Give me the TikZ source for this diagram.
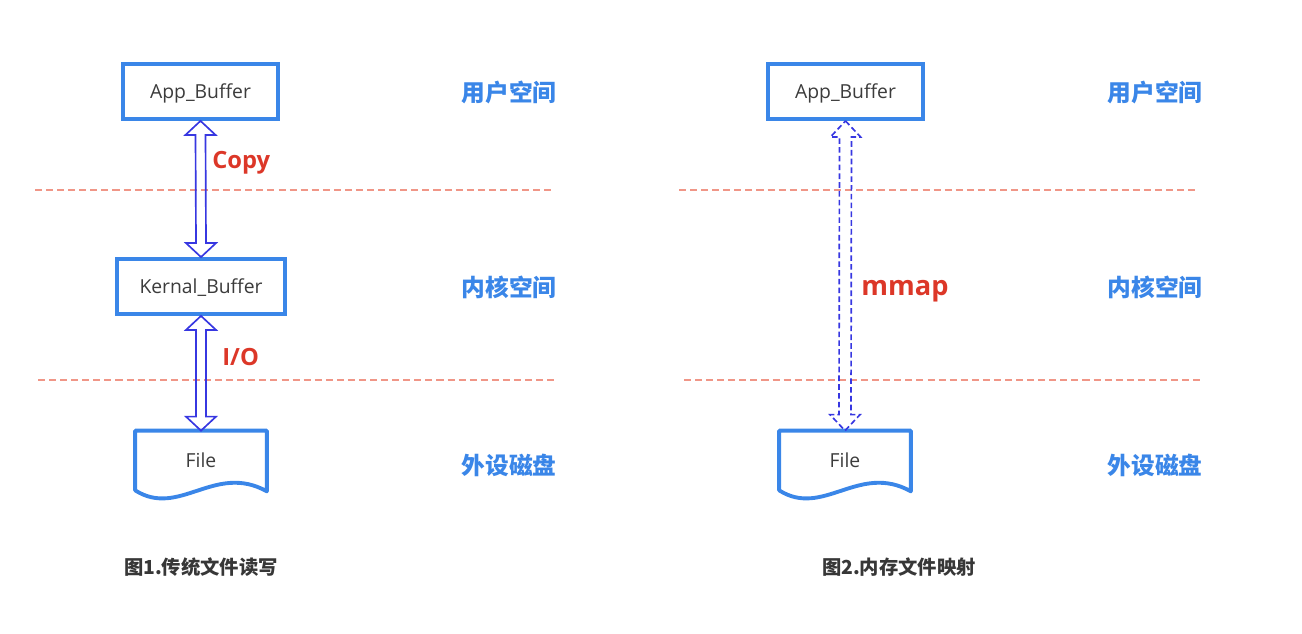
\documentclass[tikz,border=0pt]{standalone}
\usepackage{fontspec}
\setmainfont{Open Sans}
\newfontfamily\cjk{Noto Sans CJK SC}
\usetikzlibrary{calc}
\definecolor{boxblue}{RGB}{58,134,232}
\definecolor{arrowblue}{RGB}{55,55,225}
\definecolor{sepred}{RGB}{240,150,135}
\definecolor{labred}{RGB}{220,55,40}
\definecolor{capgray}{RGB}{55,55,55}
\definecolor{txtgray}{RGB}{60,60,60}
\tikzset{
  buf/.style={draw=boxblue, line width=2.2pt, fill=white, minimum height=1.1cm, inner sep=0pt, font=\fontsize{11}{13}\selectfont, text=txtgray, text height=7.8pt, text depth=0pt},
  filebox/.style={minimum width=2.62cm, minimum height=1.2cm, inner sep=0pt, font=\fontsize{11}{13}\selectfont, text=txtgray, text height=7.8pt, text depth=0pt},
  fileline/.style={draw=boxblue, line width=2.2pt, line join=round},
  sep/.style={draw=sepred, line width=1.25pt, dash pattern=on 4pt off 2.3pt},
  zone/.style={text=boxblue, font=\cjk\bfseries\fontsize{13.5}{16}\selectfont},
  captxt/.style={text=capgray, font=\cjk\bfseries\fontsize{11}{13}\selectfont},
  oplab/.style={text=labred, font=\bfseries\fontsize{13.5}{16}\selectfont, anchor=west, inner sep=0pt},
  harrow/.style={draw=arrowblue, line width=0.95pt, line join=miter},
  harrowd/.style={harrow, dash pattern=on 3.2pt off 1.8pt},
}
\begin{document}
\begin{tikzpicture}[x=0.02cm, y=-0.02cm]
\useasboundingbox (0,0) rectangle (1302,634);

% separators
\draw[sep] (35,190) -- (553,190);
\draw[sep] (38,380) -- (557,380);
\draw[sep] (679,190) -- (1197,190);
\draw[sep] (684,380) -- (1202,380);

% left diagram
\node[buf, minimum width=3.1cm] (ab1) at (200.5,91.5) {App\_Buffer};
\node[buf, minimum width=3.36cm] (kb) at (201,286.5) {Kernal\_Buffer};
\node[filebox] (f1) at (201,461) {File};
\draw[fileline] (f1.north west) -- ($(f1.south west)+(0,-1)$)
  .. controls ($(f1.south west)+(44,27)$) and ($(f1.south east)+(-52,-29)$) .. (f1.south east)
  -- (f1.north east) -- cycle;

\draw[harrow] (ab1.south) -- ++(15,14) -- ++(-10,0) -- ($(kb.north)+(5,-14)$) -- ++(10,0) -- (kb.north)
  -- ++(-15,-14) -- ++(10,0) -- ($(ab1.south)+(-5,14)$) -- ++(-10,0) -- cycle;
\draw[harrow] (kb.south) -- ++(15,14) -- ++(-10,0) -- ($(f1.north)+(5,-14)$) -- ++(10,0) -- (f1.north)
  -- ++(-15,-14) -- ++(10,0) -- ($(kb.south)+(-5,14)$) -- ++(-10,0) -- cycle;

\node[oplab] (copy) at (212,163) {Copy};
\node[oplab] (io) at (222,357) {I/O};

\node[zone] (z1) at (509,92) {用户空间};
\node[zone] (z2) at (509,287) {内核空间};
\node[zone] (z3) at (509,465) {外设磁盘};
\node[captxt] (c1) at (201,567) {图1.传统文件读写};

% right diagram
\node[buf, minimum width=3.1cm] (ab2) at (845.5,91.5) {App\_Buffer};
\node[filebox] (f2) at (845,461) {File};
\draw[fileline] (f2.north west) -- ($(f2.south west)+(0,-1)$)
  .. controls ($(f2.south west)+(44,27)$) and ($(f2.south east)+(-52,-29)$) .. (f2.south east)
  -- (f2.north east) -- cycle;

\draw[harrowd] (ab2.south) -- ++(15,16) -- ++(-9,0) -- ($(f2.north)+(6,-16)$) -- ++(9,0) -- (f2.north)
  -- ++(-15,-16) -- ++(9,0) -- ($(ab2.south)+(-6,16)$) -- ++(-9,0) -- cycle;

\node[oplab, font=\bfseries\fontsize{15.5}{18}\selectfont] (mm) at (861,291) {mmap};

\node[zone] (z4) at (1155,92) {用户空间};
\node[zone] (z5) at (1155,287) {内核空间};
\node[zone] (z6) at (1155,465) {外设磁盘};
\node[captxt] (c2) at (899,567) {图2.内存文件映射};
\end{tikzpicture}
\end{document}
